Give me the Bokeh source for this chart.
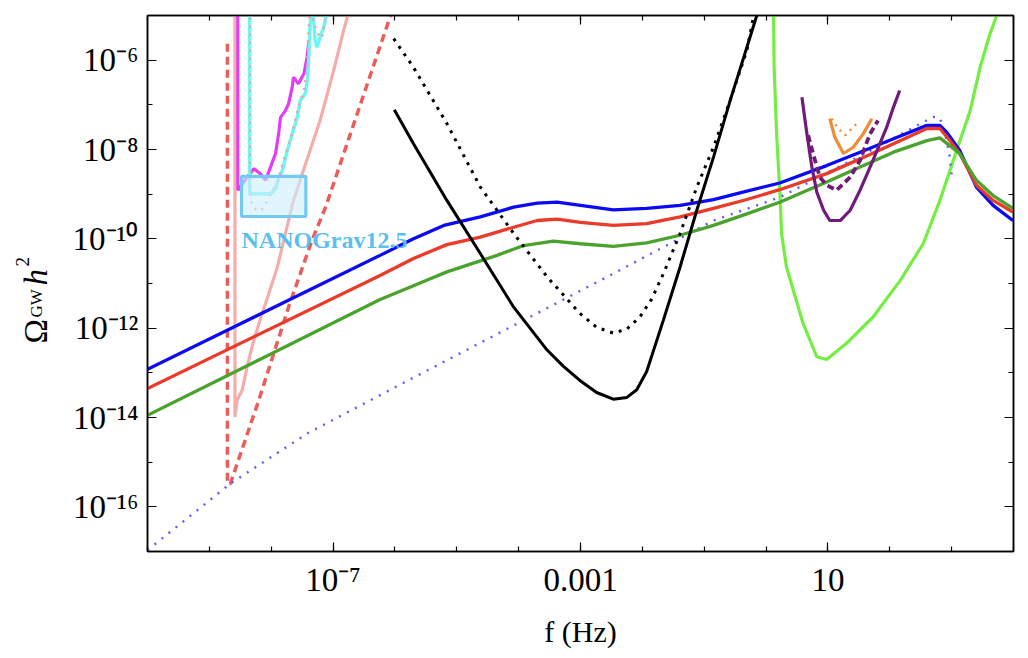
import numpy as np
from bokeh.plotting import figure
from bokeh.layouts import row
from bokeh.models import Range1d, LogAxis, FixedTicker, Label, CustomJSTickFormatter
from bokeh.core.properties import value
from bokeh.embed import file_html
from bokeh.resources import INLINE

# ---------------- data: log10 f [Hz] and log10 Omega_GW h^2 ----------------
blue_lf = [-10.0, -6.24, -5.70, -5.21, -4.62, -4.08, -3.70, -3.38, -3.00, -2.47, -1.93, -1.39, -0.85,
           -0.31, 0.22, 0.98, 1.52, 2.06, 2.60, 2.81, 2.92, 3.13, 3.40, 3.67, 3.99]
blue_lo = [-12.92, -10.37, -10.00, -9.70, -9.51, -9.29, -9.20, -9.18, -9.25, -9.35, -9.32, -9.25, -9.12,
           -8.93, -8.75, -8.36, -8.06, -7.76, -7.46, -7.46, -7.61, -8.02, -8.84, -9.25, -9.59]

red_lf = [-10.0, -6.24, -5.70, -5.16, -4.62, -4.08, -3.70, -3.38, -3.00, -2.47, -1.93, -1.39, -0.85,
          -0.31, 0.22, 0.98, 1.52, 2.06, 2.60, 2.81, 2.97, 3.13, 3.40, 3.67, 3.99]
red_lo = [-13.35, -10.82, -10.44, -10.13, -9.96, -9.74, -9.59, -9.56, -9.63, -9.70, -9.66, -9.51, -9.32,
          -9.12, -8.90, -8.54, -8.21, -7.87, -7.53, -7.53, -7.80, -8.09, -8.80, -9.14, -9.40]

green_lf = [-10.0, -6.24, -5.70, -5.16, -4.35, -3.92, -3.44, -3.00, -2.47, -1.93, -1.39, -0.85, -0.31,
            0.22, 0.98, 1.52, 2.06, 2.60, 2.81, 3.13, 3.40, 3.67, 3.99]
green_lo = [-13.95, -11.36, -11.05, -10.74, -10.37, -10.15, -10.05, -10.11, -10.17, -10.09, -9.92, -9.70, -9.44,
            -9.18, -8.73, -8.39, -8.06, -7.80, -7.74, -8.09, -8.69, -9.03, -9.32]

bdot_lf = [-10.0, -8.66, -7.42, -5.94, -3.97, -2.47, -0.85, 0.22, 0.98, 1.79, 2.70, 2.81, 2.92, 2.97, 3.00]
bdot_lo = [-16.97, -15.48, -14.36, -13.28, -11.86, -10.78, -9.59, -9.07, -8.53, -7.95, -7.27, -7.29, -7.80, -8.17, -8.58]

lisa_lf = [-6.01, -5.70, -5.16, -4.62, -4.08, -3.54, -3.28, -3.01, -2.74, -2.47, -2.25, -2.09, -1.93,
           -1.66, -1.39, -1.12, -0.85, -0.58, -0.31, -0.15, -0.05]
lisa_lo = [-7.11, -7.87, -9.14, -10.33, -11.53, -12.49, -12.85, -13.17, -13.44, -13.59, -13.55, -13.38, -12.97,
           -11.82, -10.63, -9.36, -8.17, -6.90, -5.71, -5.00, -4.60]

bkdot_lf = [-6.02, -5.70, -5.16, -4.62, -4.08, -3.54, -3.01, -2.74, -2.47, -2.25, -2.04, -1.85, -1.66,
            -1.39, -1.12, -0.85, -0.58, -0.31, -0.20, -0.10]
bkdot_lo = [-5.52, -6.16, -7.42, -8.84, -9.88, -10.85, -11.67, -11.98, -12.11, -12.02, -11.75, -11.35, -10.78,
            -9.88, -8.84, -7.95, -6.90, -5.78, -5.00, -4.60]

et_lf = [0.12, 0.13, 0.17, 0.23, 0.25, 0.33, 0.44, 0.60, 0.82, 0.98, 1.30, 1.73, 2.17, 2.54, 2.81, 3.08,
         3.30, 3.46, 3.62, 3.73, 3.80]
et_lo = [-4.80, -6.16, -7.65, -9.14, -9.88, -10.63, -11.15, -11.90, -12.64, -12.70, -12.34, -11.75, -10.93,
         -10.11, -9.14, -8.02, -7.13, -6.16, -5.41, -5.00, -4.80]

purple_lf = [0.58, 0.66, 0.74, 0.82, 0.93, 1.03, 1.20, 1.36, 1.52, 1.73, 1.95, 2.06, 2.16]
purple_lo = [-6.83, -7.65, -8.39, -8.95, -9.36, -9.59, -9.59, -9.36, -8.91, -8.24, -7.50, -7.05, -6.68]

purdash_lf = [0.68, 0.76, 0.87, 0.98, 1.14, 1.36, 1.52, 1.68, 1.81]
purdash_lo = [-7.68, -8.09, -8.62, -8.80, -8.91, -8.62, -8.24, -7.65, -7.35]

orange_lf = [1.03, 1.11, 1.25, 1.41, 1.57, 1.71]
orange_lo = [-7.31, -7.72, -8.09, -7.95, -7.65, -7.31]

ordot_lf = [1.06, 1.17, 1.28, 1.38, 1.49]
ordot_lo = [-7.31, -7.54, -7.68, -7.54, -7.39]

ska_lf = [-8.708, -8.708, -8.66, -8.20, -7.72, -7.34, -7.12, -6.72, -6.08, -6.00]
ska_lo = [-5.63, -15.48, -15.48, -13.61, -11.53, -10.03, -9.29, -7.65, -5.04, -4.75]

pta_lf = [-8.586, -8.586, -8.55, -8.47, -8.39, -8.31, -8.20, -8.04, -7.90, -7.77, -7.64, -7.48, -7.21,
          -6.99, -6.83, -6.77, -6.74]
pta_lo = [-4.80, -13.99, -13.61, -13.39, -12.87, -12.42, -11.90, -11.23, -10.63, -9.88, -9.14, -8.47, -7.35,
          -6.23, -5.34, -5.04, -4.90]

mag_lf = [-8.54, -8.54, -8.50, -8.39, -8.28, -8.18, -8.09, -8.01, -7.93, -7.88, -7.85, -7.77, -7.72,
          -7.66, -7.64, -7.56, -7.47, -7.42, -7.39]
mag_lo = [-4.80, -8.91, -8.84, -8.62, -8.43, -8.54, -8.69, -8.39, -8.09, -7.65, -7.28, -7.13, -6.98,
          -6.60, -6.38, -6.53, -6.30, -5.93, -5.56]

cyan_lf = [-8.35, -8.35, -8.01, -7.93, -7.88, -7.82, -7.74, -7.66, -7.58, -7.53, -7.45, -7.41, -7.39,
           -7.37, -7.35, -7.33, -7.29, -7.26, -7.21, -7.15, -7.09]
cyan_lo = [-4.80, -8.99, -8.99, -8.88, -8.65, -8.47, -8.02, -7.65, -7.28, -6.90, -6.75, -6.38, -5.86,
           -5.19, -5.00, -4.78, -5.56, -5.71, -5.49, -5.26, -4.89]

pdot_lf = [-8.34, -8.34, -8.30, -8.21, -8.13, -8.06, -7.98, -7.90, -7.80, -7.72, -7.64, -7.56, -7.47,
           -7.42, -7.39, -7.36, -7.31, -7.26, -7.18, -7.14, -7.11]
pdot_lo = [-5.05, -9.05, -9.29, -9.38, -9.32, -9.14, -8.91, -8.73, -8.24, -7.95, -7.50, -7.05, -6.68,
           -6.16, -5.11, -4.80, -5.16, -5.38, -5.51, -5.22, -4.89]

nano_lf = [-8.48, -7.44]
nano_lo = [-9.50, -8.60]
nano_text = "NANOGrav12.5"

x_major = [1e-7, 1e-3, 10.0]
x_major_labels = ["10\u207b\u2077", "0.001", "10"]
x_minor = [1e-10, 1e-9, 1e-8, 1e-7, 1e-6, 1e-5, 1e-4, 1e-3, 1e-2, 1e-1, 1.0, 10.0, 100.0, 1e3, 1e4]
y_major = [1e-16, 1e-14, 1e-12, 1e-10, 1e-8, 1e-6]
y_major_labels = ["10\u207b\u00b9\u2076", "10\u207b\u00b9\u2074", "10\u207b\u00b9\u00b2",
                  "10\u207b\u00b9\u2070", "10\u207b\u2078", "10\u207b\u2076"]
y_minor = [1e-17, 1e-15, 1e-13, 1e-11, 1e-9, 1e-7, 1e-5]

ylab_parts = ["\u03a9", "GW", "h", "2"]
xlab = "f (Hz)"


def P(v):
    return np.power(10.0, np.array(v, dtype=float))


SERIF = "Liberation Serif"
W, H = 1026, 656
WL = 56            # width of the strip that holds the vertical axis title
BT, BB = 15, 105   # top / bottom borders shared by both parts of the row

# ---------------- strip with the rotated axis title (page-pixel coordinates) ----------------
lab = figure(width=WL, height=H, x_range=Range1d(0, WL), y_range=Range1d(H - BB, BT),
             x_axis_location=None, y_axis_location=None, title=None,
             output_backend="svg", toolbar_location=None,
             min_border_left=0, min_border_right=0, min_border_top=BT, min_border_bottom=BB)
lab.grid.visible = False
lab.outline_line_color = None
ang = np.pi / 2
for txt, lx, ly, size, fstyle in zip(ylab_parts, [35, 36, 35, 22], [343, 317, 285, 266],
                                     ["33px", "17px", "33px", "19px"],
                                     ["normal", "normal", "italic", "normal"]):
    lab.text(x=[lx], y=[ly], text=[txt], angle=ang, text_font=value(SERIF),
             text_font_size=size, text_font_style=fstyle, text_color="black",
             text_baseline="alphabetic", text_align="left")

# ---------------- main plot ----------------
p = figure(width=W - WL, height=H, x_axis_type="log", y_axis_type="log",
           x_range=Range1d(1e-10, 1e4), y_range=Range1d(1e-17, 1e-5),
           output_backend="svg", toolbar_location=None,
           min_border_left=147 - WL, min_border_right=13, min_border_top=BT, min_border_bottom=BB)
p.grid.visible = False
p.outline_line_color = "black"
p.outline_line_width = 1.5
p.background_fill_color = "white"
p.border_fill_color = "white"

LAB_CODE = """
for (let i = 0; i < vals.length; i++) {
  if (Math.abs(Math.log10(tick) - Math.log10(vals[i])) < 1e-6) { return labs[i]; }
}
return "";
"""


def style(ax, labels=True):
    ax.major_tick_in = 9
    ax.major_tick_out = 0
    ax.minor_tick_in = 5
    ax.minor_tick_out = 0
    ax.axis_line_width = 1.5
    ax.major_tick_line_width = 1.2
    ax.minor_tick_line_width = 1.2
    ax.major_label_text_font = SERIF
    ax.major_label_text_color = "black"
    if labels:
        ax.major_label_text_font_size = "33px"
    else:
        ax.major_label_text_font_size = "2px"
        ax.major_label_text_alpha = 0
        ax.major_label_standoff = 0
        ax.formatter = CustomJSTickFormatter(code="return '';")


xa = p.xaxis[0]
xa.ticker = FixedTicker(ticks=x_major, minor_ticks=x_minor)
style(xa)
xa.major_label_standoff = 10
xa.formatter = CustomJSTickFormatter(args=dict(vals=x_major, labs=x_major_labels), code=LAB_CODE)
xa.axis_label = xlab
xa.axis_label_text_font = SERIF
xa.axis_label_text_font_size = "30px"
xa.axis_label_text_font_style = "normal"
xa.axis_label_text_color = "black"
xa.axis_label_standoff = 14

ya = p.yaxis[0]
ya.ticker = FixedTicker(ticks=y_major, minor_ticks=y_minor)
style(ya)
ya.major_label_standoff = 9
ya.formatter = CustomJSTickFormatter(args=dict(vals=y_major, labs=y_major_labels), code=LAB_CODE)

top = LogAxis(ticker=FixedTicker(ticks=x_major, minor_ticks=x_minor))
style(top, labels=False)
p.add_layout(top, "above")
right = LogAxis(ticker=FixedTicker(ticks=y_major, minor_ticks=y_minor))
style(right, labels=False)
p.add_layout(right, "right")

# ---------------- curves ----------------
p.line(P(et_lf), P(et_lo), line_color="#74ee42", line_width=3.2)
p.line(P(ska_lf), P(ska_lo), line_color="#eb5d5a", line_width=3.5, line_dash="8 5")
p.line(P(pta_lf), P(pta_lo), line_color="#f3aeab", line_width=3.2)
p.line(P(mag_lf), P(mag_lo), line_color="#e23cf6", line_width=3.2)
p.line(P(cyan_lf), P(cyan_lo), line_color="#6cf6f6", line_width=3.5)
p.line(P(pdot_lf), P(pdot_lo), line_color="#f0a5a3", line_width=2.6, line_dash="2 6")
p.line(P(bdot_lf), P(bdot_lo), line_color="#5b5bff", line_width=2.4, line_dash="2 7")
p.line(P(blue_lf), P(blue_lo), line_color="#0a0af5", line_width=3.3)
p.line(P(red_lf), P(red_lo), line_color="#ea3a2a", line_width=3.3)
p.line(P(green_lf), P(green_lo), line_color="#4ba22e", line_width=3.3)
p.line(P(purple_lf), P(purple_lo), line_color="#701b7a", line_width=3.2)
p.line(P(purdash_lf), P(purdash_lo), line_color="#701b7a", line_width=3.8, line_dash="7 4")
p.line(P(orange_lf), P(orange_lo), line_color="#f08c35", line_width=3.2)
p.line(P(ordot_lf), P(ordot_lo), line_color="#f08c35", line_width=2.5, line_dash="2 5")
p.line(P(bkdot_lf), P(bkdot_lo), line_color="black", line_width=3.0, line_dash="3 6")
p.line(P(lisa_lf), P(lisa_lo), line_color="black", line_width=3.0)

nf = P(nano_lf)
no = P(nano_lo)
p.quad(left=nf[0], right=nf[1], bottom=no[0], top=no[1],
       fill_color="#cdeefb", fill_alpha=0.6, line_color="#74c9f2", line_width=3.2)

p.add_layout(Label(x=nf[0], y=10 ** -10.03, text=nano_text, text_font=SERIF,
                   text_font_size="24px", text_font_style="bold", text_color="#5bbfec",
                   text_baseline="alphabetic", text_align="left"))

layout = row(lab, p, spacing=0)
open("out.html", "w").write(file_html(layout, INLINE))
